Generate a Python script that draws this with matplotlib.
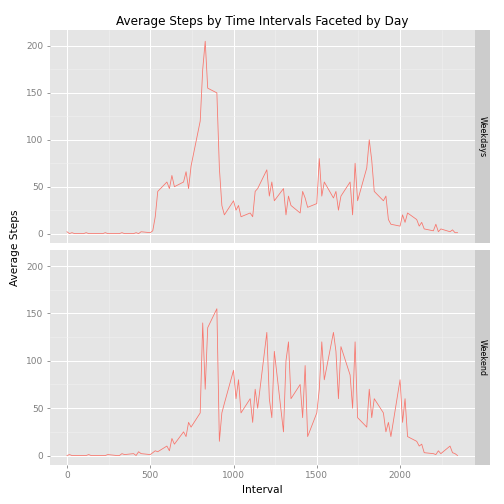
import matplotlib.pyplot as plt
import numpy as np

intervals = [h * 100 + m for h in range(24) for m in (0, 15, 30, 45)]
weekdays = [2,0,1,0, 0,1,0,0, 0,0,1,0, 0,0,1,0, 0,1,0,2, 1,3,18,45,
            55,48,62,50, 55,66,48,72, 120,175,205,155, 150,70,30,20,
            35,25,30,18, 22,18,45,48, 68,40,55,35, 48,20,40,30,
            22,45,38,28, 32,80,40,55, 38,45,25,40, 55,20,75,35,
            70,100,78,45, 35,40,15,10, 8,20,12,22, 15,8,12,5,
            3,10,2,5, 2,4,1,1]
weekend = [0,1,0,0, 0,0,1,0, 0,0,0,1, 0,0,2,1, 2,0,4,2, 1,3,5,4,
           10,5,18,12, 25,20,35,30, 45,140,70,135, 155,15,45,55,
           90,60,80,45, 60,35,70,50, 130,60,40,110, 25,100,120,60,
           75,40,95,20, 45,70,120,80, 130,110,60,115, 85,50,120,40,
           30,70,40,60, 45,25,35,20, 80,35,60,20, 15,10,12,3,
           2,1,5,2, 10,3,2,0]
panels = [("Weekdays", weekdays), ("Weekend", weekend)]

fig = plt.figure(figsize=(7, 7), dpi=72)
W, H = 504, 504
left, right, strip = 50, 475, 15
tops = [(30, 243), (250, 465)]
for i, (name, vals) in enumerate(panels):
    t, b = tops[i]
    ax = fig.add_axes([left / W, 1 - b / H, (right - left) / W, (b - t) / H])
    ax.set_facecolor("#E5E5E5")
    ax.plot(intervals, vals, color="#F8766D", lw=0.8)
    ax.set_xlim(-102, 2450)
    ax.set_ylim(-10, 217)
    ax.set_xticks([0, 500, 1000, 1500, 2000])
    ax.set_yticks([0, 50, 100, 150, 200])
    ax.set_xticks([250, 750, 1250, 1750, 2250], minor=True)
    ax.set_yticks([25, 75, 125, 175], minor=True)
    ax.grid(True, which="major", color="white", lw=1)
    ax.grid(True, which="minor", color="#F2F2F2", lw=0.5)
    ax.set_axisbelow(True)
    for s in ax.spines.values():
        s.set_visible(False)
    ax.tick_params(colors="#7F7F7F", labelsize=9, length=3, which="major")
    ax.tick_params(which="minor", length=0)
    if i == 0:
        ax.tick_params(labelbottom=False, length=0, axis="x")
    sax = fig.add_axes([right / W, 1 - b / H, strip / W, (b - t) / H])
    sax.set_facecolor("#CCCCCC")
    sax.set_xticks([]); sax.set_yticks([])
    for s in sax.spines.values():
        s.set_visible(False)
    sax.text(0.5, 0.5, name, rotation=-90, ha="center", va="center",
             fontsize=8, transform=sax.transAxes)

fig.text(262 / W, 1 - 22 / H, "Average Steps by Time Intervals Faceted by Day",
         ha="center", va="center", fontsize=12)
fig.text(262 / W, 1 - 490 / H, "Interval", ha="center", va="center", fontsize=10.5)
fig.text(15 / W, 1 - 248 / H, "Average Steps", ha="center", va="center",
         rotation=90, fontsize=10.5)
fig.savefig("out.png", dpi=72)
